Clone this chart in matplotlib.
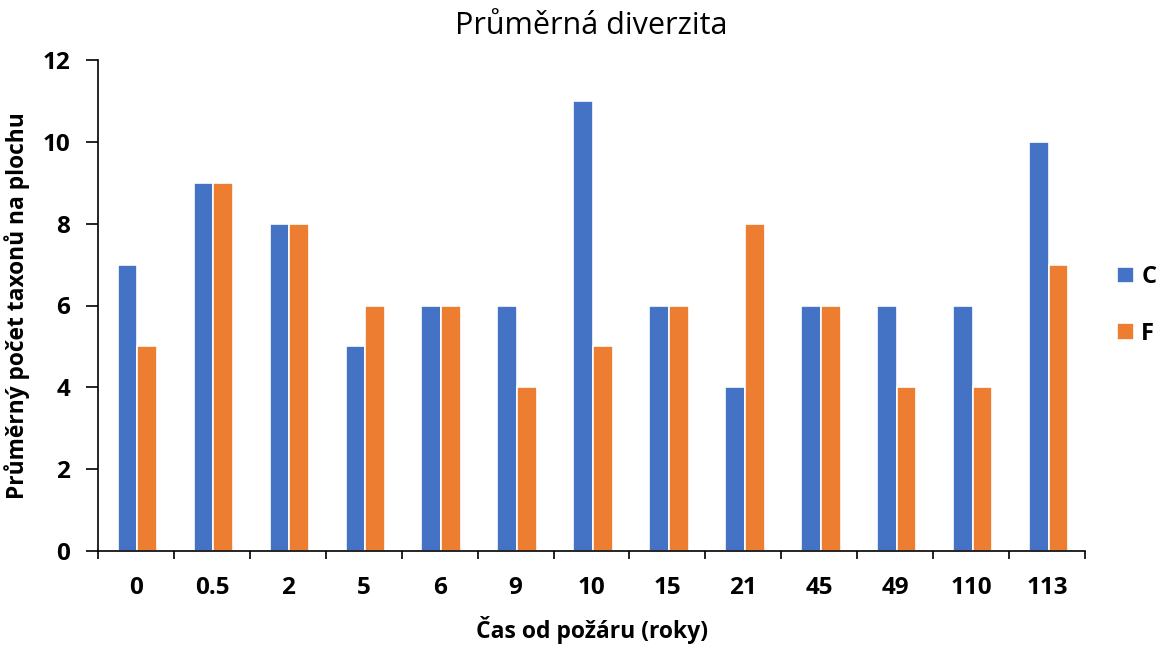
import matplotlib
matplotlib.use("Agg")
import matplotlib.pyplot as plt
import numpy as np

categories = ["0", "0.5", "2", "5", "6", "9", "10", "15", "21", "45", "49", "110", "113"]
series_c = [7, 9, 8, 5, 6, 6, 11, 6, 4, 6, 6, 6, 10]
series_f = [5, 9, 8, 6, 6, 4, 5, 6, 8, 6, 4, 4, 7]
y_ticks = [0, 2, 4, 6, 8, 10, 12]

BLUE = "#4472C4"
ORANGE = "#ED7D31"
FONT = "Open Sans"

fig = plt.figure(figsize=(11.73, 6.45), dpi=100)
ax = fig.add_axes([98 / 1173, 1 - 551 / 645, (1085 - 98) / 1173, (551 - 60) / 645])

x = np.arange(len(categories))
w = 0.26
shift = 0.02
ax.bar(x - w / 2 + shift, series_c, width=w, color=BLUE, edgecolor="white", linewidth=1.2, label="C")
ax.bar(x + w / 2 + shift, series_f, width=w, color=ORANGE, edgecolor="white", linewidth=1.2, label="F")

ax.set_xlim(-0.5, len(categories) - 0.5)
ax.set_ylim(0, 12)
ax.set_yticks(y_ticks)
ax.set_yticklabels([str(t) for t in y_ticks], fontfamily=FONT, fontweight="bold", fontsize=17.5)

ax.set_xticks(x)
ax.set_xticklabels(categories, fontfamily=FONT, fontweight="bold", fontsize=17.5)
ax.tick_params(axis="x", which="major", length=0, pad=18)
ax.set_xticks(np.arange(len(categories) + 1) - 0.5, minor=True)
ax.tick_params(axis="x", which="minor", length=6, width=1.2, color="black", direction="out")
ax.tick_params(axis="y", length=9, width=1.2, pad=11, direction="out")

for side in ["top", "right"]:
    ax.spines[side].set_visible(False)
for side in ["left", "bottom"]:
    ax.spines[side].set_linewidth(1.2)

ax.set_title("Průměrná diverzita", fontfamily=FONT, fontsize=22, pad=19)
ax.set_xlabel("Čas od požáru (roky)", fontfamily=FONT, fontweight="bold", fontsize=16.5, labelpad=11.5)
ax.set_ylabel("Průměrný počet taxonů na plochu", fontfamily=FONT, fontweight="bold",
              fontsize=16.4, labelpad=9)

leg = ax.legend(loc="center left", bbox_to_anchor=(1.011, 0.5), frameon=False,
                prop={"family": FONT, "weight": "bold", "size": 17},
                handlelength=0.72, handleheight=0.72, handletextpad=0.3, labelspacing=1.37)

fig.savefig("out.png", dpi=100)
